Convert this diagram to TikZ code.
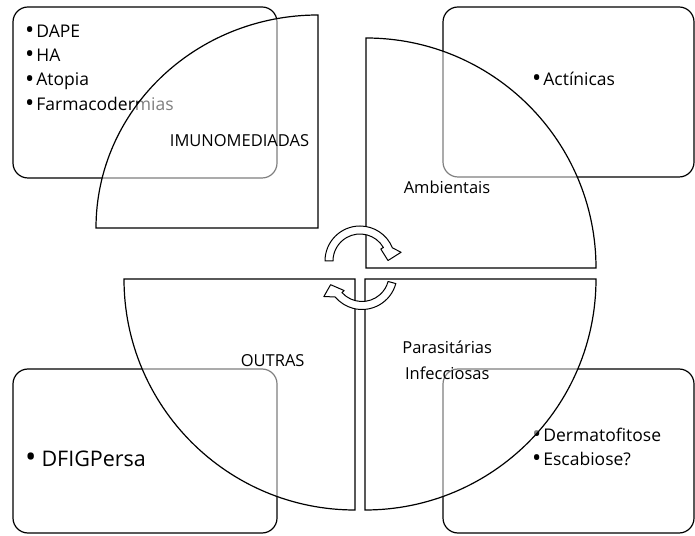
\documentclass[tikz,border=0pt]{standalone}
\usepackage{fontspec}
\setmainfont{Open Sans}
\newcommand{\blt}{\raisebox{-1.2pt}{\scalebox{1.4}{•}}}
\begin{document}
\begin{tikzpicture}[x=1pt,y=1pt,
  panel/.style={draw,line width=1.2pt,rounded corners=15pt,inner sep=0pt},
  wedge/.style={draw,line width=1.2pt,fill=white,fill opacity=0.5},
  turn/.style={draw,line width=1pt,fill=white,line join=round},
  item/.style={font=\fontsize{17.5}{24}\selectfont,inner sep=0pt,anchor=base west},
  tag/.style={font=\fontsize{16.5}{20}\selectfont,inner sep=0pt,anchor=base}]
  \useasboundingbox (0,0) rectangle (695,535);
  % caixas dos cantos
  \node[panel,minimum width=264pt,minimum height=171pt] (imunobox) at (145,442.5) {};
  \node[panel,minimum width=251pt,minimum height=170pt] (ambbox) at (568.5,443) {};
  \node[panel,minimum width=264pt,minimum height=164pt] (outbox) at (145,84) {};
  \node[panel,minimum width=251pt,minimum height=164pt] (infbox) at (568.5,84) {};
  \node[item] (dape) at (25,497.7) {\blt\hspace{2pt}DAPE};
  \node[item] (ha) at (25,473.3) {\blt\hspace{2pt}HA};
  \node[item] (atopia) at (25,449) {\blt\hspace{2pt}Atopia};
  \node[item] (farma) at (25,424.3) {\blt\hspace{2pt}Farmacodermias};
  \node[item] (actin) at (532,449.3) {\blt\hspace{2pt}Actínicas};
  \node[item,font=\fontsize{21.5}{26}\selectfont] (dfig) at (25,68.3) {\blt\hspace{5pt}DFIGPersa};
  \node[item] (dermato) at (532,93.3) {\blt\hspace{2pt}Dermatofitose};
  \node[item] (escab) at (532,69.3) {\blt\hspace{2pt}Escabiose?};
  % quadrantes
  \draw[wedge] (318,307) -- (96,307) arc[start angle=180,end angle=90,x radius=222,y radius=213] -- cycle;
  \draw[wedge] (366,267) -- (366,497) arc[start angle=90,end angle=0,radius=230] -- cycle;
  \draw[wedge] (355,256) -- (124,256) arc[start angle=180,end angle=270,radius=231] -- cycle;
  \draw[wedge] (365,256) -- (596,256) arc[start angle=0,end angle=-90,radius=231] -- cycle;
  \node[tag] (imuno) at (239.5,388.3) {IMUNOMEDIADAS};
  \node[tag] (amb) at (447,341) {Ambientais};
  \node[tag] (outras) at (272.7,168.3) {OUTRAS};
  \node[tag] (paras) at (447.2,181.7) {Parasitárias};
  \node[tag] (infec) at (447.3,155) {Infecciosas};
  % setas circulares
  \draw[turn,shift={(360,274)}] (180:35) arc[start angle=180,end angle=22,radius=35]
    -- (12:42) -- (1:28) -- (30:24) -- (30:27) arc[start angle=30,end angle=180,radius=27] -- cycle;
  \draw[turn,shift={(362,260.5)}] (-15:35) arc[start angle=-15,end angle=-140,radius=35]
    -- (-150:44) -- (-162:33) -- (-138:24) -- (-138:27) arc[start angle=-138,end angle=-15,radius=27] -- cycle;
\end{tikzpicture}
\end{document}
